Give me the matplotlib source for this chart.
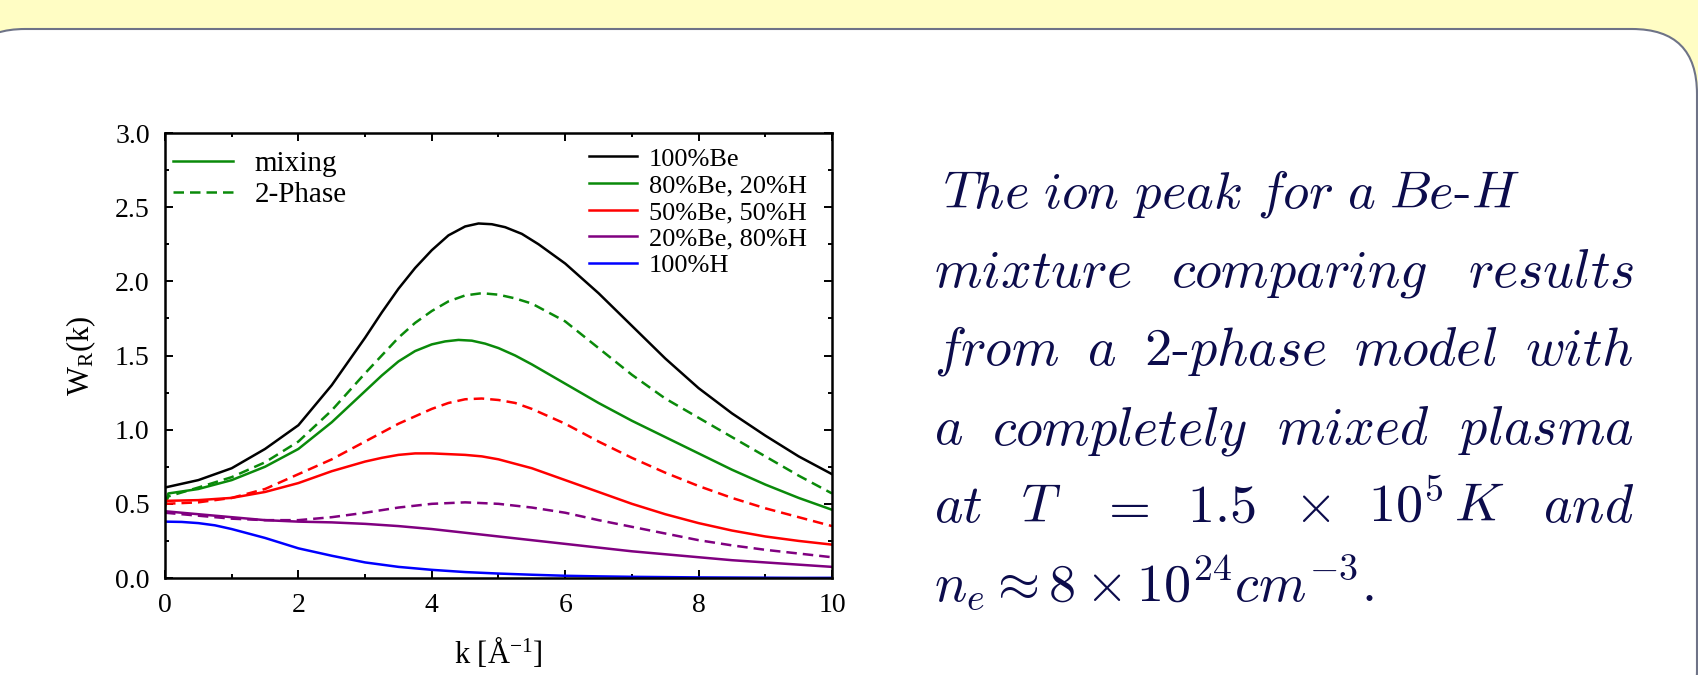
import matplotlib
matplotlib.use('Agg')
import matplotlib.pyplot as plt
from matplotlib.patches import FancyBboxPatch
from matplotlib.lines import Line2D
from matplotlib.ticker import MultipleLocator, FormatStrFormatter

plt.rcParams['font.family'] = ['Liberation Serif', 'DejaVu Serif']
plt.rcParams['mathtext.fontset'] = 'custom'
plt.rcParams['mathtext.rm'] = 'Liberation Serif'
plt.rcParams['mathtext.it'] = 'Liberation Serif:italic'

# ---------------- data ----------------
k = [0, 0.5, 1, 1.5, 2, 2.5, 3, 3.5, 4, 4.5, 5, 5.5, 6, 6.5, 7, 7.5, 8, 8.5, 9, 9.5, 10]

k_be100 = [0, 0.5, 1, 1.5, 2, 2.5, 3, 3.25, 3.5, 3.75, 4, 4.25, 4.5, 4.7, 4.9, 5.1, 5.35, 5.6,
           6, 6.5, 7, 7.5, 8, 8.5, 9, 9.5, 10]
be100 = [0.61, 0.66, 0.74, 0.87, 1.03, 1.30, 1.62, 1.79, 1.95, 2.09, 2.21, 2.31, 2.37, 2.39,
         2.385, 2.365, 2.32, 2.25, 2.12, 1.92, 1.70, 1.48, 1.28, 1.11, 0.96, 0.82, 0.70]

k_mix80 = [0, 0.05, 0.5, 1, 1.5, 2, 2.5, 2.75, 3, 3.25, 3.5, 3.75, 4, 4.2, 4.4, 4.6, 4.8, 5, 5.25,
           5.5, 6, 6.5, 7, 7.5, 8, 8.5, 9, 9.5, 10]
mix80 = [0.48, 0.57, 0.60, 0.66, 0.75, 0.87, 1.05, 1.155, 1.26, 1.365, 1.46, 1.53, 1.575, 1.595,
         1.605, 1.60, 1.58, 1.55, 1.50, 1.44, 1.31, 1.18, 1.06, 0.95, 0.84, 0.73, 0.63, 0.54, 0.46]

k_two80 = [0, 0.05, 0.5, 1, 1.5, 2, 2.5, 3, 3.5, 3.75, 4, 4.25, 4.5, 4.75, 5, 5.25, 5.5, 6, 6.5,
           7, 7.5, 8, 8.5, 9, 9.5, 10]
two80 = [0.50, 0.55, 0.61, 0.68, 0.78, 0.92, 1.13, 1.38, 1.62, 1.72, 1.80, 1.865, 1.905, 1.92,
         1.91, 1.885, 1.85, 1.73, 1.55, 1.37, 1.21, 1.08, 0.95, 0.82, 0.69, 0.57]

k_mix50 = [0, 0.5, 1, 1.5, 2, 2.5, 3, 3.25, 3.5, 3.75, 4, 4.25, 4.5, 4.75, 5, 5.5, 6, 6.5, 7, 7.5,
           8, 8.5, 9, 9.5, 10]
mix50 = [0.52, 0.525, 0.54, 0.58, 0.64, 0.72, 0.785, 0.81, 0.83, 0.84, 0.84, 0.835, 0.83, 0.82,
         0.80, 0.74, 0.66, 0.58, 0.50, 0.43, 0.37, 0.32, 0.28, 0.25, 0.225]

k_two50 = [0, 0.5, 1, 1.5, 2, 2.5, 3, 3.5, 4, 4.25, 4.5, 4.75, 5, 5.25, 5.5, 6, 6.5, 7, 7.5, 8,
           8.5, 9, 9.5, 10]
two50 = [0.50, 0.51, 0.54, 0.60, 0.70, 0.80, 0.92, 1.04, 1.14, 1.18, 1.205, 1.21, 1.20, 1.18,
         1.14, 1.04, 0.92, 0.81, 0.71, 0.62, 0.54, 0.47, 0.41, 0.35]

mix20 = [0.45, 0.43, 0.41, 0.39, 0.38, 0.375, 0.365, 0.35, 0.33, 0.305, 0.28, 0.255, 0.23, 0.205,
         0.18, 0.16, 0.14, 0.12, 0.105, 0.09, 0.075]
two20 = [0.44, 0.42, 0.40, 0.39, 0.39, 0.41, 0.44, 0.475, 0.50, 0.51, 0.50, 0.475, 0.44, 0.39,
         0.345, 0.30, 0.255, 0.22, 0.19, 0.165, 0.14]

k_h100 = [0, 0.25, 0.5, 0.75, 1, 1.25, 1.5, 1.75, 2, 2.5, 3, 3.5, 4, 4.5, 5, 5.5, 6, 6.5, 7, 7.5,
          8, 8.5, 9, 9.5, 10]
h100 = [0.38, 0.378, 0.37, 0.355, 0.33, 0.30, 0.27, 0.235, 0.20, 0.15, 0.105, 0.075, 0.055, 0.04,
        0.03, 0.022, 0.015, 0.011, 0.008, 0.006, 0.004, 0.003, 0.002, 0.001, 0.001]

labels_comp = ['100%Be', '80%Be, 20%H', '50%Be, 50%H', '20%Be, 80%H', '100%H']
labels_model = ['mixing', '2-Phase']

C_BLACK, C_GREEN, C_RED, C_PURPLE, C_BLUE = '#000000', '#0a8a0a', '#ff0000', '#800080', '#0000ff'

# words, left x, right x (justify), baseline y from top, justify?, font size
text_lines = [
    ([r'$The$', r'$ion$', r'$peak$', r'$for$', r'$a$', r'$Be$-$H$'], 943, 1520, 208, True, 38),
    ([r'$mixture$', r'$comparing$', r'$results$'], 934, 1634, 287, True, 39),
    ([r'$from$', r'$a$', r'$2$-$phase$', r'$model$', r'$with$'], 934, 1634, 365, True, 39),
    ([r'$a$', r'$completely$', r'$mixed$', r'$plasma$'], 934, 1634, 444, True, 39),
    ([r'$at$', r'$T$', r'$=$', r'$1.5$', r'$\times$', r'$10^5\,K$', r'$and$'], 934, 1634, 522, True, 39),
    ([r'$n_e \approx 8 \times 10^{24} cm^{-3}.$'], 934, None, 601, False, 39),
]

# ---------------- figure ----------------
W, H = 1699, 675
fig = plt.figure(figsize=(W / 100, H / 100), dpi=100)
fig.patch.set_facecolor('#fffdc4')

bg = fig.add_axes([0, 0, 1, 1])
bg.set_xlim(0, W)
bg.set_ylim(0, H)
bg.axis('off')
bg.set_zorder(0)
box = FancyBboxPatch((-40, -60), 1737, (H - 29) + 60,
                     boxstyle='round,pad=0,rounding_size=65',
                     fc='white', ec='#6e7387', lw=1.5)
bg.add_patch(box)

ax = fig.add_axes([165 / W, (H - 578) / H, 667 / W, 445 / H])
ax.set_zorder(1)

lw = 1.8
dash = (4.2, 2.4)
ax.plot(k_be100, be100, color=C_BLACK, lw=lw)
ax.plot(k_two80, two80, color=C_GREEN, lw=lw, dashes=dash)
ax.plot(k_mix80, mix80, color=C_GREEN, lw=lw)
ax.plot(k_two50, two50, color=C_RED, lw=lw, dashes=dash)
ax.plot(k_mix50, mix50, color=C_RED, lw=lw)
ax.plot(k, two20, color=C_PURPLE, lw=lw, dashes=dash)
ax.plot(k, mix20, color=C_PURPLE, lw=lw)
ax.plot(k_h100, h100, color=C_BLUE, lw=lw)

ax.set_xlim(0, 10)
ax.set_ylim(0, 3.0)
ax.xaxis.set_major_locator(MultipleLocator(2))
ax.xaxis.set_minor_locator(MultipleLocator(1))
ax.yaxis.set_major_locator(MultipleLocator(0.5))
ax.yaxis.set_minor_locator(MultipleLocator(0.25))
ax.yaxis.set_major_formatter(FormatStrFormatter('%.1f'))
ax.tick_params(which='both', direction='in', top=True, right=True, width=1.4)
ax.tick_params(which='major', length=6, labelsize=20, pad=11)
ax.tick_params(which='minor', length=3)
for s in ax.spines.values():
    s.set_linewidth(1.8)

ax.set_ylabel(r'W$_{\mathrm{R}}$(k)', fontsize=22, labelpad=12)
ax.set_xlabel(r'k [Å$^{\mathrm{-1}}$]', fontsize=22, labelpad=12)

h_model = [Line2D([], [], color=C_GREEN, lw=lw), Line2D([], [], color=C_GREEN, lw=lw, dashes=dash)]
leg1 = ax.legend(h_model, labels_model, loc='upper left', bbox_to_anchor=(0.012, 0.96),
                 frameon=False, fontsize=21, handlelength=2.05, handletextpad=0.75,
                 labelspacing=0.15, borderpad=0, borderaxespad=0)
ax.add_artist(leg1)
h_comp = [Line2D([], [], color=c, lw=lw) for c in (C_BLACK, C_GREEN, C_RED, C_PURPLE, C_BLUE)]
ax.legend(h_comp, labels_comp, loc='upper left', bbox_to_anchor=(0.636, 0.968),
          frameon=False, fontsize=19, handlelength=1.8, handletextpad=0.45,
          labelspacing=0.12, borderpad=0, borderaxespad=0)

# ---------------- right text (justified) ----------------
TXT = '#0c0c4c'
fig.canvas.draw()
renderer = fig.canvas.get_renderer()
for words, x0, x1, ybase, just, fs in text_lines:
    y = H - ybase
    objs = [bg.text(0, y, w, fontsize=fs, color=TXT, math_fontfamily='cm',
                    family=['cmr10', 'DejaVu Serif'], va='baseline', ha='left')
            for w in words]
    widths = [o.get_window_extent(renderer).width for o in objs]
    if just and len(objs) > 1:
        gap = (x1 - x0 - sum(widths)) / (len(objs) - 1)
    else:
        gap = 0
    x = x0
    for o, wdt in zip(objs, widths):
        o.set_x(x)
        x += wdt + gap

fig.savefig('out.png', dpi=100, facecolor=fig.get_facecolor())
